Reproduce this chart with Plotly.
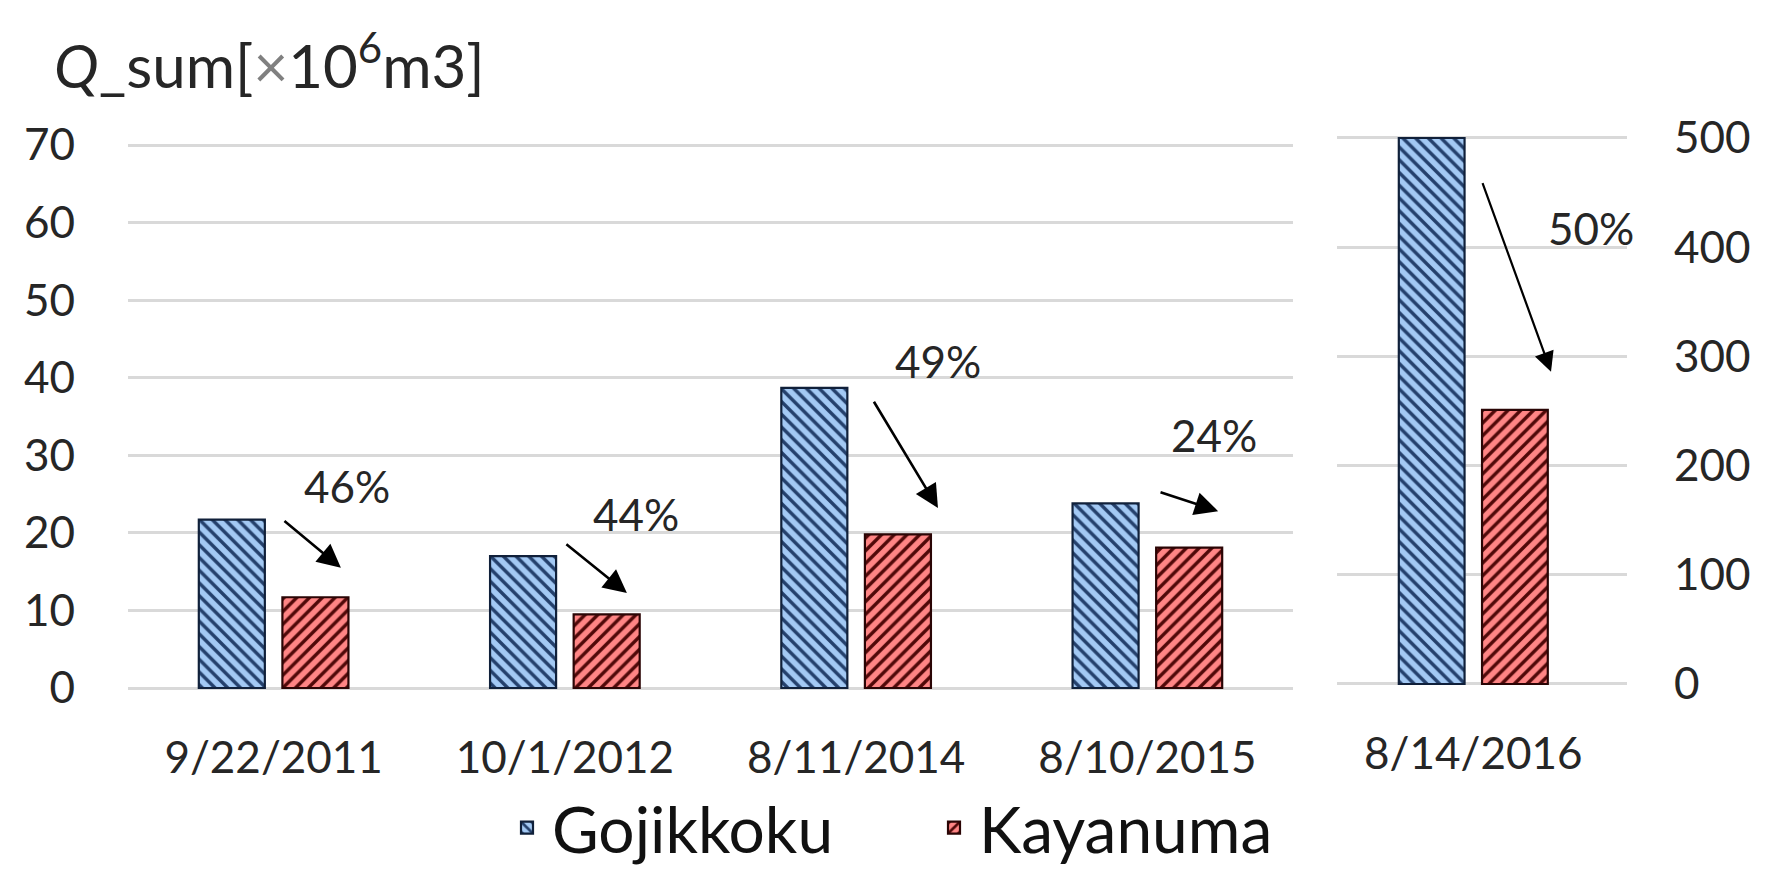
import plotly.graph_objects as go

# ---- data ----
dates_left = ["9/22/2011", "10/1/2012", "8/11/2014", "8/10/2015"]
goji_left = [21.7, 17.0, 38.7, 23.8]
kaya_left = [11.7, 9.5, 19.8, 18.1]

dates_right = ["8/14/2016"]
goji_right = [500]
kaya_right = [251]

pct_labels = ["46%", "44%", "49%", "24%"]
pct_label_x = [0.252, 1.244, 2.281, 3.229]
pct_label_y = [26.0, 22.4, 42.2, 32.6]
arrow_start = [(0.032, 21.7), (1.0, 18.7), (2.058, 37.1), (3.04, 25.3)]
arrow_end = [(0.231, 15.5), (1.213, 12.25), (2.281, 23.2), (3.243, 22.8)]

pct_right_label = "50%"
pct_right_pos = (0.406, 418)
arrow_right_start = (0.03, 460)
arrow_right_end = (0.268, 286)

left_ticks = [0, 10, 20, 30, 40, 50, 60, 70]
right_ticks = [0, 100, 200, 300, 400, 500]

# ---- styles ----
PAGE_W, PAGE_H = 1782, 878
OFF = 8                              # default body margin of the html page
W, H = PAGE_W - 2 * OFF, PAGE_H - 2 * OFF
FONT = "Lato"
TXT = "#262626"
BLUE_BG, BLUE_FG = "#A3C9F4", "#24406C"
RED_BG, RED_FG = "#FF8585", "#500808"
GRID = "#D9D9D9"

def px(p):   # page pixel column -> paper x
    return (p - OFF) / W

def py(p):   # page pixel row -> paper y
    return 1 - (p - OFF) / H

L_Y0, L_Y70 = 688, 145
R_Y0, R_Y500 = 684, 138
L_PAD, R_PAD = 0.3, 2.0
l_ppu = (L_Y0 - L_Y70) / 70.0
r_ppu = (R_Y0 - R_Y500) / 500.0

xl = list(range(len(dates_left)))
xr = list(range(len(dates_right)))

def pat(shape, bg, fg):
    return dict(shape=shape, bgcolor=bg, fgcolor=fg, fillmode="replace", size=9, solidity=0.38)

fig = go.Figure()
fig.add_trace(go.Bar(x=xl, y=goji_left, name="Gojikkoku", xaxis="x", yaxis="y",
                     marker=dict(color=BLUE_BG, pattern=pat("\\", BLUE_BG, BLUE_FG),
                                 line=dict(color="#10203a", width=2.2)),
                     legendgroup="g", offsetgroup="g"))
fig.add_trace(go.Bar(x=xl, y=kaya_left, name="Kayanuma", xaxis="x", yaxis="y",
                     marker=dict(color=RED_BG, pattern=pat("/", RED_BG, RED_FG),
                                 line=dict(color="#2a0505", width=2.2)),
                     legendgroup="k", offsetgroup="k"))
fig.add_trace(go.Bar(x=xr, y=goji_right, name="Gojikkoku", xaxis="x2", yaxis="y2",
                     marker=dict(color=BLUE_BG, pattern=pat("\\", BLUE_BG, BLUE_FG),
                                 line=dict(color="#10203a", width=2.2)),
                     legendgroup="g", offsetgroup="g", showlegend=False))
fig.add_trace(go.Bar(x=xr, y=kaya_right, name="Kayanuma", xaxis="x2", yaxis="y2",
                     marker=dict(color=RED_BG, pattern=pat("/", RED_BG, RED_FG),
                                 line=dict(color="#2a0505", width=2.2)),
                     legendgroup="k", offsetgroup="k", showlegend=False))

annotations = []
for t, x, y in zip(pct_labels, pct_label_x, pct_label_y):
    annotations.append(dict(x=x, y=y, xref="x", yref="y", text=t, showarrow=False,
                            font=dict(family=FONT, size=44, color=TXT)))
for (x0, y0), (x1, y1) in zip(arrow_start, arrow_end):
    annotations.append(dict(x=x1, y=y1, ax=x0, ay=y0, xref="x", yref="y", axref="x", ayref="y",
                            text="", showarrow=True, arrowhead=2, arrowsize=1.8,
                            arrowwidth=2.6, arrowcolor="#000000"))
annotations.append(dict(x=pct_right_pos[0], y=pct_right_pos[1], xref="x2", yref="y2",
                        text=pct_right_label, showarrow=False,
                        font=dict(family=FONT, size=44, color=TXT)))
annotations.append(dict(x=arrow_right_end[0], y=arrow_right_end[1],
                        ax=arrow_right_start[0], ay=arrow_right_start[1],
                        xref="x2", yref="y2", axref="x2", ayref="y2",
                        text="", showarrow=True, arrowhead=2, arrowsize=1.8,
                        arrowwidth=2.2, arrowcolor="#000000"))
annotations.append(dict(x=px(52), y=py(62), xref="paper", yref="paper",
                        xanchor="left", yanchor="middle", showarrow=False,
                        text="<i>Q</i>_sum[<span style='color:#808080'>×</span>10<sup>6</sup>m3]",
                        font=dict(family=FONT, size=60, color=TXT)))

axis_font = dict(family=FONT, size=44, color=TXT)

fig.update_layout(
    width=W, height=H,
    margin=dict(l=0, r=0, t=0, b=0, autoexpand=False),
    paper_bgcolor="white", plot_bgcolor="white",
    barmode="group", bargap=0.426, bargroupgap=0.21,
    font=dict(family=FONT, color=TXT),
    xaxis=dict(domain=[px(128), px(1293)], range=[-0.5, 3.5], anchor="y",
               tickmode="array", tickvals=xl, ticktext=dates_left, automargin=False,
               tickfont=axis_font, showgrid=False, zeroline=False, showline=False,
               ticks="", ticklabelstandoff=38),
    yaxis=dict(domain=[py(L_Y0 + L_PAD * l_ppu), py(L_Y70 - L_PAD * l_ppu)],
               range=[-L_PAD, 70 + L_PAD], anchor="x", automargin=False,
               tickmode="array", tickvals=left_ticks, tickfont=axis_font,
               showgrid=True, gridcolor=GRID, gridwidth=2.5, zeroline=False,
               showline=False, ticks="", ticklabelstandoff=52),
    xaxis2=dict(domain=[px(1337), px(1627)], range=[-0.47, 0.53], anchor="y2",
                tickmode="array", tickvals=xr, ticktext=dates_right, automargin=False,
                tickfont=axis_font, showgrid=False, zeroline=False, showline=False,
                ticks="", ticklabelstandoff=38),
    yaxis2=dict(domain=[py(R_Y0 + R_PAD * r_ppu), py(R_Y500 - R_PAD * r_ppu)],
                range=[-R_PAD, 500 + R_PAD], anchor="x2", automargin=False,
                side="right", tickmode="array", tickvals=right_ticks, tickfont=axis_font,
                showgrid=True, gridcolor=GRID, gridwidth=2.5, zeroline=False,
                showline=False, ticks="", ticklabelstandoff=46),
    legend=dict(orientation="h", x=px(502), xanchor="left", y=py(828), yanchor="middle",
                font=dict(family=FONT, size=64, color="#111111"), bgcolor="rgba(0,0,0,0)",
                itemwidth=40, tracegroupgap=0, entrywidth=372, entrywidthmode="pixels"),
    annotations=annotations,
)

fig.write_html("out.html")
